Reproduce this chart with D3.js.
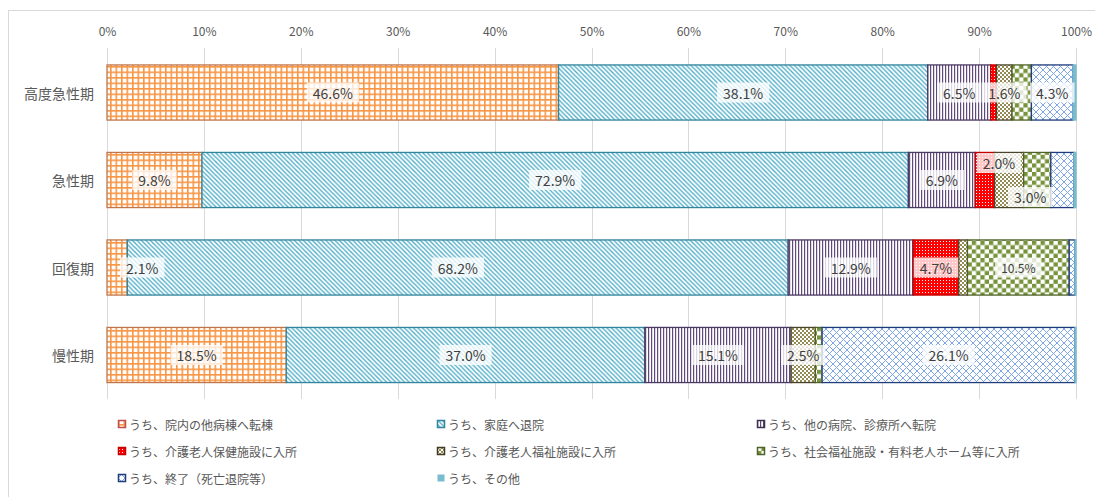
<!DOCTYPE html>
<html>
<head>
<meta charset="utf-8">
<script src="https://cdn.jsdelivr.net/npm/d3@7"></script>
<style>
  body { margin: 0; background: #fff; }
  svg { display: block; font-family: "Noto Sans CJK JP", "Noto Sans", sans-serif; }
</style>
</head>
<body>
<div id="chart"></div>
<script>
// categories (rows) and series (stacked segments, %)
const categories = ["高度急性期", "急性期", "回復期", "慢性期"];
const seriesNames = [
  "うち、院内の他病棟へ転棟",
  "うち、家庭へ退院",
  "うち、他の病院、診療所へ転院",
  "うち、介護老人保健施設に入所",
  "うち、介護老人福祉施設に入所",
  "うち、社会福祉施設・有料老人ホーム等に入所",
  "うち、終了（死亡退院等）",
  "うち、その他"
];
const transferWard = [46.6, 9.8, 2.1, 18.5];
const home = [38.1, 72.9, 68.2, 37.0];
const otherHospital = [6.5, 6.9, 12.9, 15.1];
const healthFacility = [0.6, 2.0, 4.7, 0.0];
const welfareFacility = [1.6, 3.0, 0.9, 2.5];
const socialFacility = [2.0, 2.8, 10.5, 0.7];
const ended = [4.3, 2.4, 0.6, 26.1];
const other = [0.3, 0.2, 0.1, 0.1];
const xTicks = [0, 0.1, 0.2, 0.3, 0.4, 0.5, 0.6, 0.7, 0.8, 0.9, 1.0];

const seriesValues = [transferWard, home, otherHospital, healthFacility,
  welfareFacility, socialFacility, ended, other];

// which data labels are shown (series index -> category index list)
const shownLabels = {
  0: [0, 1, 2, 3],
  1: [0, 1, 2, 3],
  2: [0, 1, 2, 3],
  3: [1, 2],
  4: [0, 1, 3],
  5: [2],
  6: [0, 3]
};

const width = 1095, height = 497;
const svg = d3.select("#chart").append("svg")
  .attr("width", width).attr("height", height);

// patterns
const defs = svg.append("defs");
function pat(id, w, h) {
  return defs.append("pattern").attr("id", id)
    .attr("patternUnits", "userSpaceOnUse").attr("width", w).attr("height", h);
}
// orange large grid
let p = pat("p0", 5.5, 5.5);
p.append("rect").attr("width", 5.5).attr("height", 5.5).attr("fill", "#fff");
p.append("rect").attr("width", 1.6).attr("height", 5.5).attr("fill", "#F79646");
p.append("rect").attr("width", 5.5).attr("height", 1.6).attr("fill", "#F79646");
// teal diagonal
p = pat("p1", 4.5, 4.5);
p.append("rect").attr("width", 4.5).attr("height", 4.5).attr("fill", "#fff");
p.append("path").attr("d", "M-1,-1L5.5,5.5M-1,3.5L1,5.5M3.5,-1L5.5,1")
  .attr("stroke", "#4BACC6").attr("stroke-width", 1.3);
// purple vertical lines
p = pat("p2", 3, 3);
p.append("rect").attr("width", 3).attr("height", 3).attr("fill", "#fff");
p.append("rect").attr("width", 1.2).attr("height", 3).attr("fill", "#604A7B");
// red with white dots
p = pat("p3", 3, 3);
p.append("rect").attr("width", 3).attr("height", 3).attr("fill", "#FF0000");
p.append("rect").attr("x", 1).attr("y", 1).attr("width", 1).attr("height", 1).attr("fill", "#fff");
// olive small checker
p = pat("p4", 4, 4);
p.append("rect").attr("width", 4).attr("height", 4).attr("fill", "#fff");
p.append("rect").attr("width", 2).attr("height", 2).attr("fill", "#948A54");
p.append("rect").attr("x", 2).attr("y", 2).attr("width", 2).attr("height", 2).attr("fill", "#948A54");
// green large checker
p = pat("p5", 8.6, 8.6);
p.append("rect").attr("width", 8.6).attr("height", 8.6).attr("fill", "#fff");
p.append("rect").attr("width", 4.3).attr("height", 4.3).attr("fill", "#77933C");
p.append("rect").attr("x", 4.3).attr("y", 4.3).attr("width", 4.3).attr("height", 4.3).attr("fill", "#77933C");
// blue trellis
p = pat("p6", 7, 7);
p.append("rect").attr("width", 7).attr("height", 7).attr("fill", "#fff");
p.append("path").attr("d", "M0,0L7,7M7,0L0,7")
  .attr("stroke", "#7FA7E8").attr("stroke-width", 1);
// other: solid light blue
p = pat("p7", 4, 4);
p.append("rect").attr("width", 4).attr("height", 4).attr("fill", "#79BCD0");

const strokes = ["#C0754A", "#31859C", "#4B3A63", "#C00000", "#4A452A", "#4F6228", "#1F3D7A", "#79BCD0"];
const legendStrokes = ["#C0504D", "#31859C", "#3F3151", "#C00000", "#403A20", "#4F6228", "#1F3D7A", "#79BCD0"];

// chart frame
svg.append("rect").attr("x", 8.5).attr("y", 10.5).attr("width", 1100).attr("height", 500)
  .attr("fill", "none").attr("stroke", "#D9D9D9");

const x = d3.scaleLinear().domain([0, 1]).range([107, 1076]);
const y = d3.scaleBand().domain(categories).range([48.75, 398.75])
  .paddingInner(0.37).paddingOuter(0.185);

// gridlines
svg.append("g").selectAll("line").data(xTicks).join("line")
  .attr("x1", d => Math.round(x(d)) + 0.5).attr("x2", d => Math.round(x(d)) + 0.5)
  .attr("y1", 48).attr("y2", 399)
  .attr("stroke", "#D9D9D9").attr("stroke-width", 1);

// top axis
const xAxis = d3.axisTop(x).tickValues(xTicks).tickFormat(d3.format(".0%")).tickSize(0).tickPadding(0);
svg.append("g").attr("transform", "translate(0,36)").call(xAxis)
  .call(g => g.select(".domain").remove())
  .call(g => g.selectAll("text").attr("fill", "#595959").attr("font-size", 12)
    .attr("font-family", "'Noto Sans CJK JP', sans-serif"));

// category labels
svg.append("g").selectAll("text").data(categories).join("text")
  .attr("x", 94).attr("y", d => y(d) + y.bandwidth() / 2)
  .attr("text-anchor", "end").attr("dominant-baseline", "central")
  .attr("fill", "#595959").attr("font-size", 14).text(d => d);

// stack
const rows = categories.map((c, i) => {
  const r = { cat: c };
  seriesValues.forEach((s, k) => r["s" + k] = s[i] / 100);
  return r;
});
const stack = d3.stack().keys(seriesValues.map((s, k) => "s" + k));
const stacked = stack(rows);

const segG = svg.append("g");
stacked.forEach((layer, k) => {
  segG.append("g").selectAll("rect").data(layer.filter(d => d[1] - d[0] > 0)).join("rect")
    .attr("x", d => x(d[0]))
    .attr("y", d => y(d.data.cat))
    .attr("width", d => x(d[1]) - x(d[0]))
    .attr("height", y.bandwidth())
    .attr("fill", `url(#p${k})`)
    .attr("stroke", strokes[k]).attr("stroke-width", 1.3);
});

// data labels (key = category-series), some moved off their segment like in the original
const labelNudge = {
  "2-0": [25, 0],
  "1-3": [14, -17],
  "1-4": [21, 17]
};
const labG = svg.append("g");
stacked.forEach((layer, k) => {
  const idx = shownLabels[k] || [];
  idx.forEach(i => {
    const d = layer[i];
    const v = seriesValues[k][i];
    const key = `${i}-${k}`;
    const nudge = labelNudge[key] || [0, 0];
    const cx = (x(d[0]) + x(d[1])) / 2 + nudge[0];
    const cy = y(d.data.cat) + y.bandwidth() / 2 + nudge[1];
    const fs = (k === 5) ? 12 : 14;
    const g = labG.append("g");
    const t = g.append("text").attr("x", cx).attr("y", cy)
      .attr("text-anchor", "middle").attr("dominant-baseline", "central")
      .attr("font-size", fs).attr("fill", "#404040")
      .text(v.toFixed(1) + "%");
    const bb = t.node().getBBox();
    g.insert("rect", "text")
      .attr("x", bb.x - 6).attr("y", cy - 10)
      .attr("width", bb.width + 12).attr("height", 20)
      .attr("fill", "#fff").attr("fill-opacity", 0.78);
  });
});

// legend
const legCols = [118, 437, 757], legRows = [424, 451, 478];
const leg = svg.append("g").selectAll("g").data(seriesNames).join("g")
  .attr("transform", (d, i) => `translate(${legCols[i % 3]},${legRows[Math.floor(i / 3)]})`);
leg.append("rect").attr("x", 0.5).attr("y", -3.5).attr("width", 7).attr("height", 7)
  .attr("fill", (d, i) => `url(#p${i})`)
  .attr("stroke", (d, i) => legendStrokes[i]).attr("stroke-width", (d, i) => i === 7 ? 0 : 1.5);
leg.append("text").attr("x", 11).attr("y", 0).attr("dominant-baseline", "central")
  .attr("font-size", 12).attr("fill", "#595959").text(d => d);
</script>
</body>
</html>
